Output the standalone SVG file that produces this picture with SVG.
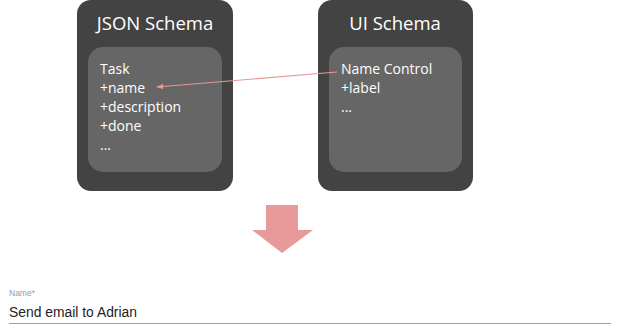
<svg xmlns="http://www.w3.org/2000/svg" width="624" height="336" viewBox="0 0 624 336">
  <defs>
    <style>
      .outer { fill: #434343; }
      .inner { fill: #666666; }
      .title { font-family: "Open Sans", "DejaVu Sans", sans-serif; font-size: 18.5px; fill: #ffffff; text-anchor: middle; }
      .body { font-family: "Open Sans", "DejaVu Sans", sans-serif; font-size: 14px; fill: #ffffff; }
      .link { stroke: #e8989a; stroke-width: 1.2; fill: none; }
      .field-label { font-family: "Liberation Sans", Arial, sans-serif; font-size: 8.5px; fill: #9a9a9a; }
      .field-value { font-family: "Liberation Sans", Arial, sans-serif; font-size: 15.5px; fill: #222222; }
    </style>
    <marker id="arrowhead" viewBox="0 0 10 10" refX="9" refY="5" markerWidth="7" markerHeight="7" markerUnits="userSpaceOnUse" orient="auto">
      <path d="M0,1 L10,5 L0,9 z" fill="#e8989a"/>
    </marker>
  </defs>

  <rect width="624" height="336" fill="#ffffff"/>

  <g id="json-schema">
    <rect class="outer" x="77" y="0" width="156" height="191" rx="14"/>
    <rect class="inner" x="88" y="47" width="134" height="125" rx="15"/>
    <text class="title" x="155" y="30">JSON Schema</text>
    <text class="body" x="100" y="74">Task</text>
    <text class="body" x="100" y="93">+name</text>
    <text class="body" x="100" y="112">+description</text>
    <text class="body" x="100" y="131">+done</text>
    <text class="body" x="100" y="150">...</text>
  </g>

  <g id="ui-schema">
    <rect class="outer" x="318" y="0" width="155" height="191" rx="14"/>
    <rect class="inner" x="329" y="47" width="133" height="125" rx="15"/>
    <text class="title" x="395" y="30">UI Schema</text>
    <text class="body" x="341" y="74">Name Control</text>
    <text class="body" x="341" y="93">+label</text>
    <text class="body" x="341" y="112">...</text>
  </g>

  <g id="connectors">
    <line class="link" x1="337" y1="72" x2="157" y2="87" marker-end="url(#arrowhead)"/>
  </g>

  <g id="render-arrow">
    <polygon points="266,205 298,205 298,230 313,230 282,253 252,230 266,230" fill="#e89a9b"/>
  </g>

  <g id="name-field">
    <text class="field-label" x="9" y="296">Name*</text>
    <text class="field-value" x="9" y="317" textLength="128" lengthAdjust="spacingAndGlyphs">Send email to Adrian</text>
    <line x1="9" y1="323.5" x2="611" y2="323.5" stroke="#9e9e9e" stroke-width="1"/>
  </g>
</svg>
